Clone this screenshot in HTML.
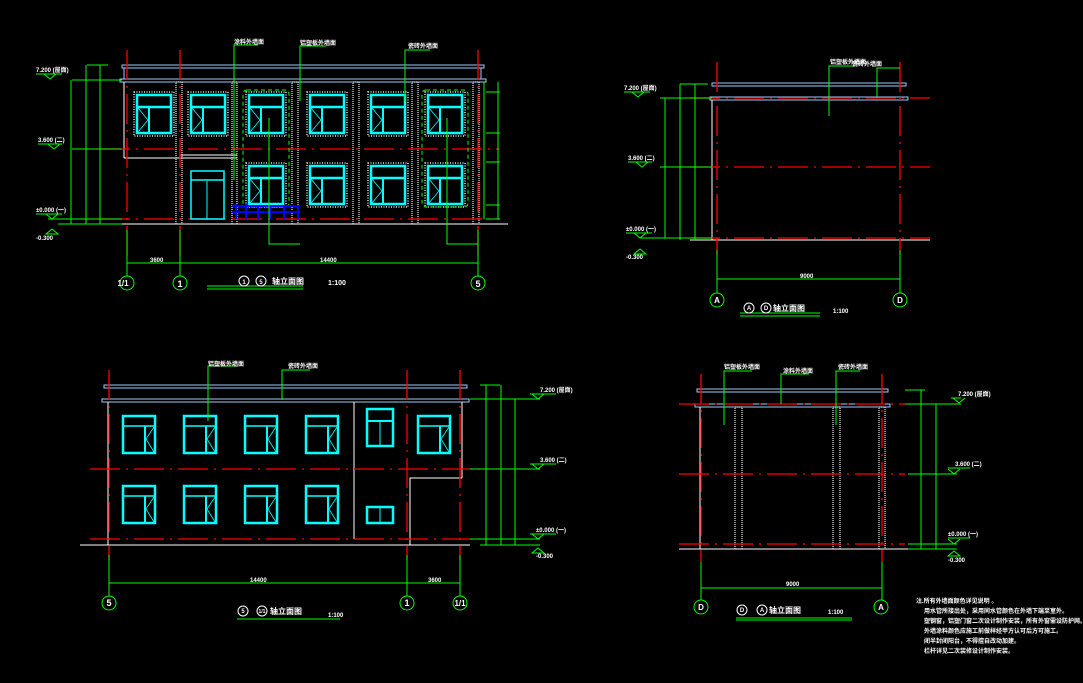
<!DOCTYPE html>
<html><head><meta charset="utf-8"><style>
html,body{margin:0;padding:0;background:#000;}
svg{display:block;}
text{font-family:"Liberation Sans","Noto Sans CJK SC",sans-serif;fill:#fff;font-weight:bold;}
</style></head><body>
<svg width="1083" height="683" viewBox="0 0 1083 683" xmlns="http://www.w3.org/2000/svg">
<defs>
<symbol id="w1" viewBox="0 0 34 38" overflow="visible">
<rect x="-3" y="-3" width="40" height="44" fill="none" stroke="#ddd" stroke-width="1.5" stroke-dasharray="1 1.5"/>
<rect x="0" y="0" width="34" height="38" fill="none" stroke="#0ff" stroke-width="2.5"/>
<line x1="0" y1="12" x2="34" y2="12" stroke="#0ff" stroke-width="2.5"/>
<line x1="12" y1="12" x2="12" y2="38" stroke="#0ff" stroke-width="2"/>
<polyline points="1,13 11,25 1,37" fill="none" stroke="#0ff" stroke-width="0.8"/>
</symbol>
<symbol id="w2" viewBox="0 0 32 37" overflow="visible">
<rect x="0" y="0" width="32" height="37" fill="none" stroke="#0ff" stroke-width="2.5"/>
<line x1="0" y1="10" x2="32" y2="10" stroke="#0ff" stroke-width="1.5"/>
<line x1="22" y1="10" x2="22" y2="37" stroke="#0ff" stroke-width="2"/>
<polyline points="31,11 23,23 31,36" fill="none" stroke="#0ff" stroke-width="0.8"/>
</symbol>
<symbol id="circ" overflow="visible"><circle r="7" fill="none" stroke="#0f0" stroke-width="1"/></symbol>
</defs>
<g stroke-width="1" fill="none">
<!-- ============ TOP LEFT ============ -->
<rect x="122" y="65" width="362" height="3" stroke="#9cf"/>
<rect x="120" y="79" width="366" height="3" stroke="#9cf"/>
<line x1="124" y1="68" x2="124" y2="79" stroke="#9cf"/>
<line x1="481" y1="68" x2="481" y2="79" stroke="#9cf"/>
<line x1="70" y1="224" x2="508" y2="224" stroke="#fff"/>
<line x1="124" y1="82" x2="124" y2="158" stroke="#fff"/>
<line x1="124" y1="158" x2="237" y2="158" stroke="#fff"/>
<line x1="180" y1="155" x2="237" y2="155" stroke="#fff"/>
<g stroke="#ddd" stroke-dasharray="1 1" stroke-width="1.3">
<rect x="176" y="82" width="6" height="142"/><rect x="232" y="82" width="5" height="142"/>
<rect x="292" y="82" width="6" height="142"/><rect x="353" y="82" width="6" height="142"/>
<rect x="412" y="82" width="6" height="142"/><rect x="473" y="82" width="6" height="142"/>
</g>
<g stroke="#f00" stroke-width="1.3" stroke-dasharray="30 6 2 6">
<line x1="127" y1="50" x2="127" y2="260"/><line x1="180" y1="50" x2="180" y2="260"/><line x1="478" y1="50" x2="478" y2="260"/>
<line x1="100" y1="149" x2="500" y2="149"/><line x1="100" y1="219" x2="500" y2="219"/>
</g>
<use href="#w1" x="137" y="95" width="34" height="38"/>
<use href="#w1" x="191" y="95" width="34" height="38"/>
<use href="#w1" x="249" y="95" width="34" height="38"/>
<use href="#w1" x="310" y="95" width="34" height="38"/>
<use href="#w1" x="371" y="95" width="34" height="38"/>
<use href="#w1" x="428" y="95" width="34" height="38"/>
<use href="#w1" x="249" y="166" width="34" height="38"/>
<use href="#w1" x="310" y="166" width="34" height="38"/>
<use href="#w1" x="371" y="166" width="34" height="38"/>
<use href="#w1" x="428" y="166" width="34" height="38"/>
<rect x="243" y="90" width="46" height="117" rx="4" stroke="#0f0" stroke-dasharray="4 3"/>
<rect x="422" y="90" width="46" height="117" rx="4" stroke="#0f0" stroke-dasharray="4 3"/>
<rect x="191" y="171" width="33" height="48" stroke="#0ff" stroke-width="1.5"/>
<line x1="191" y1="180" x2="224" y2="180" stroke="#0ff" stroke-width="1.5"/><line x1="207" y1="181" x2="207" y2="219" stroke="#0ff"/>
<g stroke="#00f" stroke-width="2"><path d="M232 206 H300 M232 212 H300 M236 204 V219 M246 204 V219 M258 206 V219 M270 206 V219 M284 206 V219 M298 206 V219"/></g>
<g stroke="#0f0">
<polyline points="234,180 234,45 258,45"/><polyline points="300,101 300,46 326,46"/><polyline points="405,102 405,50 430,50"/>
<polyline points="269,118 269,244 300,244"/><polyline points="447,118 447,244 478,244"/>
<line x1="127" y1="230" x2="127" y2="276"/><line x1="180" y1="230" x2="180" y2="276"/><line x1="478" y1="230" x2="478" y2="276"/>
<line x1="127" y1="263" x2="478" y2="263"/>
<line x1="87" y1="65" x2="108" y2="65"/><line x1="72" y1="80" x2="122" y2="80"/>
<line x1="72" y1="149" x2="122" y2="149"/><line x1="48" y1="219" x2="122" y2="219"/><line x1="58" y1="224" x2="122" y2="224"/>
<line x1="71" y1="80" x2="71" y2="224"/><line x1="86" y1="65" x2="86" y2="224"/><line x1="100" y1="65" x2="100" y2="224"/>
<line x1="36" y1="74" x2="62" y2="74"/><line x1="38" y1="144" x2="62" y2="144"/><line x1="36" y1="214" x2="62" y2="214"/>
<path d="M44 74 l6 5 l6 -5 M48 144 l6 5 l6 -5 M46 214 l6 5 l6 -5 M46 234 l6 -5 l6 5z"/>
<line x1="484" y1="82" x2="484" y2="219"/><line x1="486" y1="92" x2="500" y2="92"/><line x1="486" y1="133" x2="500" y2="133"/>
<line x1="486" y1="162" x2="500" y2="162"/><line x1="486" y1="205" x2="500" y2="205"/><line x1="486" y1="219" x2="500" y2="219"/>
<line x1="498" y1="82" x2="498" y2="219"/>
<line x1="207" y1="286" x2="303" y2="286"/><line x1="207" y1="289" x2="303" y2="289"/>
</g>
<use href="#circ" x="127" y="283"/><use href="#circ" x="180" y="283"/><use href="#circ" x="478" y="283"/>
<circle cx="244" cy="281" r="5" stroke="#fff"/><circle cx="261" cy="281" r="5" stroke="#fff"/>

<!-- ============ TOP RIGHT ============ -->
<rect x="712" y="83" width="194" height="3" stroke="#9cf"/>
<rect x="710" y="97" width="198" height="3" stroke="#9cf"/>
<line x1="712" y1="100" x2="712" y2="240" stroke="#fff"/>
<line x1="690" y1="240" x2="930" y2="240" stroke="#fff"/>
<g stroke="#f00" stroke-width="1.3" stroke-dasharray="30 6 2 6">
<line x1="717" y1="62" x2="717" y2="255"/><line x1="900" y1="62" x2="900" y2="255"/>
<line x1="690" y1="98" x2="930" y2="98"/><line x1="690" y1="167" x2="930" y2="167"/><line x1="690" y1="238" x2="930" y2="238"/>
</g>
<g stroke="#0f0">
<polyline points="829,116 829,66 855,66"/><polyline points="877,98 877,68 900,68"/>
<line x1="717" y1="250" x2="717" y2="293"/><line x1="900" y1="250" x2="900" y2="293"/>
<line x1="717" y1="279" x2="900" y2="279"/>
<line x1="660" y1="98" x2="712" y2="98"/><line x1="660" y1="167" x2="712" y2="167"/><line x1="640" y1="238" x2="712" y2="238"/>
<line x1="665" y1="98" x2="665" y2="238"/><line x1="680" y1="84" x2="680" y2="240"/><line x1="695" y1="84" x2="695" y2="240"/>
<line x1="680" y1="84" x2="708" y2="84"/>
<line x1="624" y1="92" x2="650" y2="92"/><line x1="628" y1="162" x2="652" y2="162"/><line x1="626" y1="233" x2="652" y2="233"/>
<path d="M632 92 l6 5 l6 -5 M636 162 l6 5 l6 -5 M634 233 l6 5 l6 -5 M634 254 l6 -5 l6 5z"/>
<line x1="740" y1="313" x2="820" y2="313"/><line x1="740" y1="316" x2="820" y2="316"/>
</g>
<use href="#circ" x="717" y="300"/><use href="#circ" x="900" y="300"/>
<circle cx="749" cy="308" r="5" stroke="#fff"/><circle cx="766" cy="308" r="5" stroke="#fff"/>

<!-- ============ BOTTOM LEFT ============ -->
<rect x="104" y="385" width="363" height="3" stroke="#9cf"/>
<rect x="102" y="399" width="367" height="3" stroke="#9cf"/>
<line x1="108" y1="402" x2="108" y2="545" stroke="#fff"/>
<line x1="462" y1="402" x2="462" y2="478" stroke="#fff"/>
<polyline points="462,478 410,478 410,545" stroke="#fff"/>
<line x1="354" y1="402" x2="354" y2="539" stroke="#fff"/>
<line x1="80" y1="545" x2="470" y2="545" stroke="#fff"/>
<g stroke="#f00" stroke-width="1.3" stroke-dasharray="30 6 2 6">
<line x1="109" y1="370" x2="109" y2="560"/><line x1="407" y1="370" x2="407" y2="560"/><line x1="460" y1="370" x2="460" y2="560"/>
<line x1="90" y1="469" x2="480" y2="469"/><line x1="90" y1="539" x2="480" y2="539"/>
</g>
<use href="#w2" x="123" y="416" width="32" height="37"/>
<use href="#w2" x="184" y="416" width="32" height="37"/>
<use href="#w2" x="245" y="416" width="32" height="37"/>
<use href="#w2" x="306" y="416" width="32" height="37"/>
<use href="#w2" x="418" y="416" width="32" height="37"/>
<use href="#w2" x="123" y="486" width="32" height="37"/>
<use href="#w2" x="184" y="486" width="32" height="37"/>
<use href="#w2" x="245" y="486" width="32" height="37"/>
<use href="#w2" x="306" y="486" width="32" height="37"/>
<rect x="367" y="409" width="26" height="37" stroke="#0ff" stroke-width="2.5"/>
<line x1="367" y1="421" x2="393" y2="421" stroke="#0ff" stroke-width="2"/><line x1="380" y1="421" x2="380" y2="446" stroke="#0ff"/>
<rect x="367" y="507" width="26" height="16" stroke="#0ff" stroke-width="2.5"/><line x1="380" y1="507" x2="380" y2="523" stroke="#0ff"/>
<g stroke="#0f0">
<polyline points="208,421 208,366 236,366"/><polyline points="282,400 282,370 310,370"/>
<line x1="109" y1="555" x2="109" y2="596"/><line x1="407" y1="555" x2="407" y2="596"/><line x1="460" y1="555" x2="460" y2="596"/>
<line x1="109" y1="583" x2="460" y2="583"/>
<line x1="480" y1="385" x2="500" y2="385"/><line x1="470" y1="399" x2="540" y2="399"/><line x1="470" y1="469" x2="540" y2="469"/>
<line x1="470" y1="539" x2="540" y2="539"/><line x1="480" y1="545" x2="540" y2="545"/>
<line x1="486" y1="385" x2="486" y2="545"/><line x1="501" y1="385" x2="501" y2="545"/><line x1="515" y1="399" x2="515" y2="545"/>
<line x1="530" y1="394" x2="556" y2="394"/><line x1="530" y1="464" x2="556" y2="464"/><line x1="530" y1="534" x2="556" y2="534"/>
<path d="M532 394 l6 5 l6 -5 M532 464 l6 5 l6 -5 M532 534 l6 5 l6 -5 M532 553 l6 -5 l6 5z"/>
<line x1="237" y1="619" x2="340" y2="619"/>
</g>
<use href="#circ" x="109" y="603"/><use href="#circ" x="407" y="603"/><use href="#circ" x="460" y="603"/>
<circle cx="243" cy="611" r="5" stroke="#fff"/><circle cx="262" cy="611" r="5" stroke="#fff"/>

<!-- ============ BOTTOM RIGHT ============ -->
<rect x="697" y="389" width="191" height="3" stroke="#9cf"/>
<rect x="695" y="404" width="195" height="3" stroke="#9cf"/>
<line x1="700" y1="407" x2="700" y2="549" stroke="#fff"/>
<line x1="679" y1="549" x2="910" y2="549" stroke="#fff"/>
<g stroke="#ddd" stroke-dasharray="1 1" stroke-width="1.3">
<rect x="735" y="407" width="7" height="142"/><rect x="833" y="407" width="7" height="142"/><rect x="879" y="407" width="6" height="142"/>
</g>
<g stroke="#f00" stroke-width="1.3" stroke-dasharray="30 6 2 6">
<line x1="701" y1="374" x2="701" y2="562"/><line x1="882" y1="374" x2="882" y2="562"/>
<line x1="679" y1="404" x2="905" y2="404"/><line x1="679" y1="474" x2="905" y2="474"/><line x1="679" y1="544" x2="905" y2="544"/>
</g>
<g stroke="#0f0">
<polyline points="724,425 724,371 752,371"/><polyline points="781,404 781,374 809,374"/><polyline points="836,425 836,371 860,371"/>
<line x1="701" y1="562" x2="701" y2="600"/><line x1="882" y1="562" x2="882" y2="600"/>
<line x1="701" y1="588" x2="882" y2="588"/>
<line x1="905" y1="390" x2="925" y2="390"/><line x1="905" y1="404" x2="961" y2="404"/><line x1="908" y1="474" x2="957" y2="474"/>
<line x1="908" y1="544" x2="957" y2="544"/><line x1="908" y1="549" x2="957" y2="549"/>
<line x1="921" y1="390" x2="921" y2="549"/><line x1="936" y1="404" x2="936" y2="549"/>
<line x1="951" y1="398" x2="961" y2="398"/><line x1="948" y1="468" x2="970" y2="468"/><line x1="948" y1="538" x2="970" y2="538"/>
<path d="M953 398 l6 5 l6 -5 M948 469 l6 5 l6 -5 M948 539 l6 5 l6 -5 M948 556 l6 -5 l6 5z"/>
<line x1="736" y1="618" x2="852" y2="618"/><line x1="736" y1="620" x2="852" y2="620"/>
</g>
<use href="#circ" x="701" y="607"/><use href="#circ" x="881" y="607"/>
<circle cx="742" cy="610" r="5" stroke="#fff"/><circle cx="762" cy="610" r="5" stroke="#fff"/>
</g>

<!-- labels -->
<g font-size="7">
<text x="123" y="286" text-anchor="middle" font-size="8">1/1</text>
<text x="180" y="287" text-anchor="middle" font-size="9">1</text>
<text x="478" y="287" text-anchor="middle" font-size="9">5</text>
<text x="244" y="284" text-anchor="middle" font-size="6">1</text><text x="261" y="284" text-anchor="middle" font-size="6">5</text>
<text x="272" y="284" font-size="8">轴立面图</text><text x="328" y="285" font-size="7">1:100</text>
<text x="234" y="44" font-size="6">涂料外墙面</text><text x="300" y="45" font-size="6">铝塑板外墙面</text><text x="408" y="48" font-size="6">瓷砖外墙面</text>
<text x="150" y="262" font-size="6">3600</text><text x="320" y="262" font-size="6">14400</text>
<text x="36" y="72" font-size="6">7.200 (屋面)</text><text x="38" y="142" font-size="6">3.600 (二)</text><text x="36" y="212" font-size="6">±0.000 (一)</text><text x="36" y="240" font-size="6">-0.300</text>

<text x="717" y="303" text-anchor="middle" font-size="8">A</text><text x="900" y="303" text-anchor="middle" font-size="8">D</text>
<text x="749" y="310" text-anchor="middle" font-size="6">A</text><text x="766" y="310" text-anchor="middle" font-size="6">D</text>
<text x="773" y="311" font-size="8">轴立面图</text><text x="833" y="313" font-size="6">1:100</text>
<text x="830" y="64" font-size="6">铝塑板外墙面</text><text x="852" y="66" font-size="6">瓷砖外墙面</text>
<text x="800" y="278" font-size="6">9000</text>
<text x="624" y="90" font-size="6">7.200 (屋面)</text><text x="628" y="160" font-size="6">3.600 (二)</text><text x="626" y="231" font-size="6">±0.000 (一)</text><text x="626" y="259" font-size="6">-0.300</text>

<text x="109" y="606" text-anchor="middle" font-size="9">5</text><text x="407" y="606" text-anchor="middle" font-size="9">1</text><text x="460" y="606" text-anchor="middle" font-size="8">1/1</text>
<text x="243" y="613" text-anchor="middle" font-size="6">5</text><text x="262" y="613" text-anchor="middle" font-size="5">1/1</text>
<text x="270" y="614" font-size="8">轴立面图</text><text x="328" y="617" font-size="6">1:100</text>
<text x="208" y="366" font-size="6">铝塑板外墙面</text><text x="288" y="368" font-size="6">瓷砖外墙面</text>
<text x="250" y="582" font-size="6">14400</text><text x="428" y="582" font-size="6">3600</text>
<text x="540" y="392" font-size="6">7.200 (屋面)</text><text x="540" y="462" font-size="6">3.600 (二)</text><text x="536" y="532" font-size="6">±0.000 (一)</text><text x="536" y="558" font-size="6">-0.300</text>

<text x="701" y="610" text-anchor="middle" font-size="8">D</text><text x="881" y="610" text-anchor="middle" font-size="8">A</text>
<text x="742" y="612" text-anchor="middle" font-size="6">D</text><text x="762" y="612" text-anchor="middle" font-size="6">A</text>
<text x="769" y="613" font-size="8">轴立面图</text><text x="828" y="614" font-size="6">1:100</text>
<text x="724" y="369" font-size="6">铝塑板外墙面</text><text x="783" y="373" font-size="6">涂料外墙面</text><text x="838" y="369" font-size="6">瓷砖外墙面</text>
<text x="786" y="586" font-size="6">9000</text>
<text x="958" y="396" font-size="6">7.200 (屋面)</text><text x="955" y="466" font-size="6">3.600 (二)</text><text x="948" y="536" font-size="6">±0.000 (一)</text><text x="948" y="562" font-size="6">-0.300</text>
<g font-size="6">
<text x="916" y="603">注.所有外墙面颜色详见说明 。</text>
<text x="924" y="613">用水管所接出处，采用同水管颜色在外墙下端至室外。</text>
<text x="924" y="623">塑钢窗，铝塑门窗二次设计制作安装，所有外窗需设防护网。</text>
<text x="924" y="633">外墙涂料颜色应施工前做样经甲方认可后方可施工。</text>
<text x="924" y="643">闭半封闭阳台，不得擅自改动加建。</text>
<text x="924" y="653">栏杆详见二次装修设计制作安装。</text>
</g>
</g>
</svg>
</body></html>
